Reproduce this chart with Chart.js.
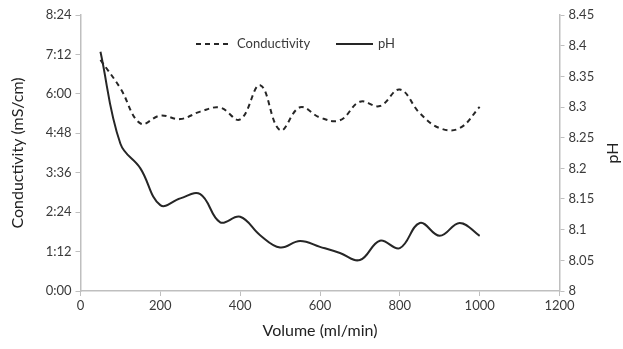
<!DOCTYPE html>
<html>
<head>
<meta charset="utf-8">
<script src="https://cdn.jsdelivr.net/npm/chart.js@4/dist/chart.umd.min.js"></script>
<style>
  html,body{margin:0;padding:0;background:#fff;}
  #wrap{width:623px;height:349px;position:relative;}
</style>
</head>
<body>
<div id="wrap"><canvas id="c" width="623" height="349"></canvas></div>
<script>
// ---- data ----
const volumes = [50,100,150,200,250,300,350,400,450,500,550,600,650,700,750,800,850,900,950,1000];
// conductivity in axis units (1 unit = one 1:12 step on the left axis)
const conductivity = [5.86,5.14,4.25,4.45,4.36,4.55,4.65,4.35,5.22,4.08,4.66,4.40,4.33,4.80,4.69,5.11,4.51,4.13,4.13,4.67];
const pH = [8.39,8.24,8.20,8.14,8.151,8.158,8.112,8.121,8.091,8.071,8.0815,8.072,8.062,8.0505,8.082,8.070,8.111,8.090,8.111,8.090];
const leftTickLabels = ['0:00','1:12','2:24','3:36','4:48','6:00','7:12','8:24'];
const xTitle = 'Volume (ml/min)';
const leftTitle = 'Conductivity (mS/cm)';
const rightTitle = 'pH';
const seriesNames = ['Conductivity','pH'];

const FONT = 'Lato, "Liberation Sans", sans-serif';
const TXT = '#3a3a3a';
const TTL = '#222';
const AX = '#bfbfbf';

const legendPlugin = {
  id: 'customLegend',
  afterDraw(chart) {
    const ctx = chart.ctx;
    ctx.save();
    ctx.font = '13px ' + FONT;
    ctx.fillStyle = TXT;
    ctx.textBaseline = 'middle';
    const y = 44;
    ctx.strokeStyle = '#262626';
    ctx.lineWidth = 2;
    ctx.setLineDash([5,4]);
    ctx.beginPath(); ctx.moveTo(196, y); ctx.lineTo(231, y); ctx.stroke();
    ctx.setLineDash([]);
    ctx.fillText(seriesNames[0], 237, y);
    ctx.beginPath(); ctx.moveTo(336, y); ctx.lineTo(373, y); ctx.stroke();
    ctx.fillText(seriesNames[1], 378, y);
    // right axis title (reads bottom to top)
    ctx.font = '16px ' + FONT;
    ctx.fillStyle = TTL;
    ctx.translate(613, 153);
    ctx.rotate(-Math.PI/2);
    ctx.textAlign = 'center';
    ctx.fillText(rightTitle, 0, 0);
    ctx.restore();
  }
};

new Chart(document.getElementById('c'), {
  type: 'line',
  data: {
    datasets: [
      {
        label: seriesNames[0],
        data: volumes.map((v,i)=>({x:v,y:conductivity[i]})),
        yAxisID: 'yL',
        borderColor: '#262626',
        borderWidth: 2,
        borderDash: [5,4],
        pointRadius: 0,
        tension: 0.4,
        fill: false
      },
      {
        label: seriesNames[1],
        data: volumes.map((v,i)=>({x:v,y:pH[i]})),
        yAxisID: 'yR',
        borderColor: '#262626',
        borderWidth: 2,
        pointRadius: 0,
        tension: 0.4,
        fill: false
      }
    ]
  },
  options: {
    responsive: false,
    animation: false,
    layout: { padding: { top: 15, left: 0, right: 0, bottom: 0 } },
    plugins: { legend: { display: false }, tooltip: { enabled: false } },
    scales: {
      x: {
        type: 'linear', min: 0, max: 1200,
        ticks: { stepSize: 200, color: TXT, font: { family: FONT, size: 13 }, padding: 2, maxRotation: 0,
                 callback: (v) => String(v) },
        grid: { display: true, drawOnChartArea: false, tickLength: 5, color: AX },
        border: { color: AX, width: 1.5 },
        title: { display: true, text: xTitle, color: TTL, font: { family: FONT, size: 16 }, padding: { top: 4, bottom: 9 } },
        afterFit(s) { s.height = 58; }
      },
      yL: {
        position: 'left', min: 0, max: 7,
        ticks: { stepSize: 1, color: TXT, font: { family: FONT, size: 13 }, padding: 4,
                 callback: (v) => leftTickLabels[Math.round(v)] },
        grid: { display: true, drawOnChartArea: false, tickLength: 5, color: AX },
        border: { color: AX, width: 1.5 },
        title: { display: true, text: leftTitle, color: TTL, font: { family: FONT, size: 16 }, padding: { top: 8, bottom: 4 } },
        afterFit(s) { s.width = 80.5; }
      },
      yR: {
        position: 'right', min: 8, max: 8.45,
        ticks: { stepSize: 0.05, color: TXT, font: { family: FONT, size: 13 }, padding: 4,
                 callback: (v) => String(Number(v.toFixed(2))) },
        grid: { display: true, drawOnChartArea: false, tickLength: 5, color: AX },
        border: { color: AX, width: 1.5 },
        afterFit(s) { s.width = 63.5; }
      }
    }
  },
  plugins: [legendPlugin]
});
</script>
</body>
</html>
